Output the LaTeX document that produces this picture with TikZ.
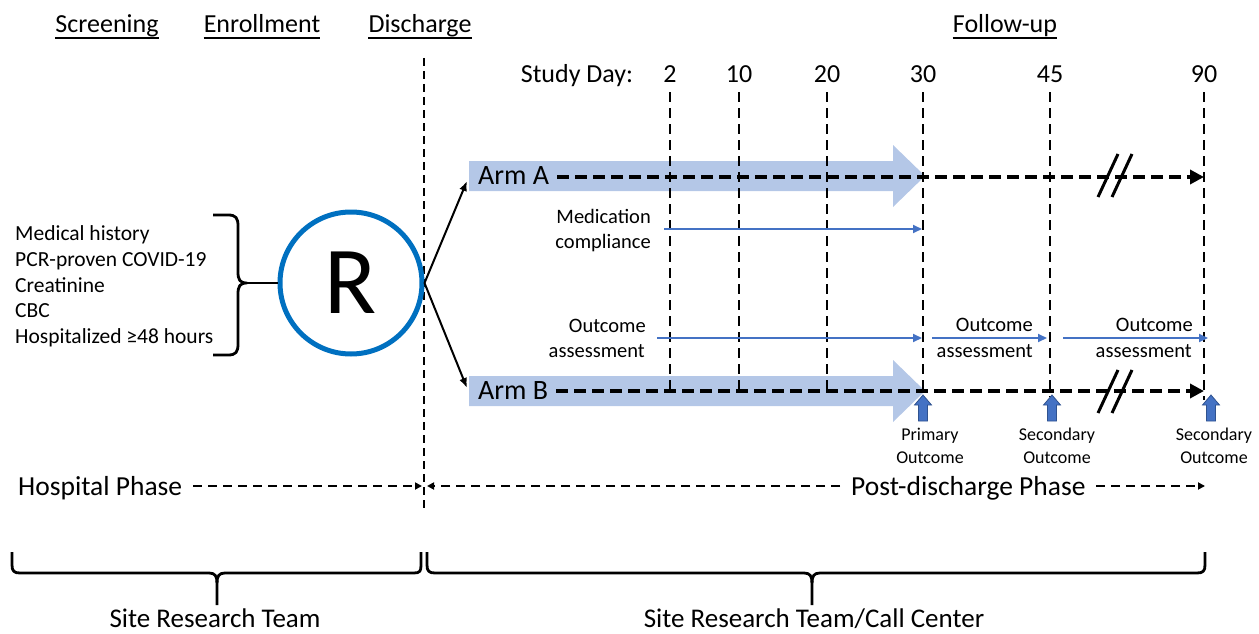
\documentclass[tikz,border=0pt]{standalone}
\usepackage{fontspec}
\setmainfont{Carlito}
\usetikzlibrary{arrows.meta,calc}
\definecolor{ringblue}{HTML}{0070C0}
\definecolor{armfill}{HTML}{B4C7E7}
\definecolor{lineblue}{HTML}{4472C4}
\definecolor{upedge}{HTML}{2F528F}
\tikzset{
  hdr/.style={font=\fontsize{26pt}{31pt}\selectfont, inner sep=0pt, anchor=base},
  armtxt/.style={font=\fontsize{28pt}{33pt}\selectfont, inner sep=0pt, anchor=base west},
  listtxt/.style={font=\fontsize{21.5pt}{25pt}\selectfont, inner sep=0pt, anchor=base west},
  midtxt/.style={font=\fontsize{20.5pt}{25pt}\selectfont, inner sep=0pt, anchor=base east},
  smalltxt/.style={font=\fontsize{18pt}{22pt}\selectfont, inner sep=0pt, anchor=base},
  dline/.style={line width=1.8pt, dash pattern=on 8pt off 5pt},
  vdash/.style={line width=2.8pt, dash pattern=on 10pt off 6pt},
  thickdash/.style={line width=3.8pt, dash pattern=on 12pt off 6pt},
  phasedash/.style={line width=2pt, dash pattern=on 9pt off 6pt},
  blk/.style={line width=2pt, -{Latex[length=10pt,width=8pt]}},
  bluearrow/.style={line width=2pt, draw=lineblue, -{Triangle[length=9pt,width=8pt]}},
  bracepath/.style={line width=2.8pt, line join=round},
}
\begin{document}
\begin{tikzpicture}[x=1pt,y=-1pt]
\useasboundingbox (0,0) rectangle (1259,634);

% headers
\node[hdr] (scr) at (107,33) {Screening};
\node[hdr] (enr) at (262,33) {Enrollment};
\node[hdr] (dis) at (420,33) {Discharge};
\node[hdr] (fol) at (1005,33) {Follow-up};
\foreach \n in {scr,enr,dis,fol}
  \draw[line width=1.3pt] ([yshift=-5pt]\n.base west) -- ([yshift=-5pt]\n.base east);

% study day row
\node[hdr] (sd) at (577,82) {Study Day:};
\node[hdr] (d2) at (670,82) {2};
\node[hdr] (d10) at (739,82) {10};
\node[hdr] (d20) at (827,82) {20};
\node[hdr] (d30) at (923,82) {30};
\node[hdr] (d45) at (1050,82) {45};
\node[hdr] (d90) at (1204,82) {90};

% discharge line
\coordinate (dtop) at (424,58);
\coordinate (dbot) at (424,508);
\draw[dline] (dtop) -- (dbot);

% big arm arrows
\fill[armfill] (469,161) -- (893,161) -- (893,145) -- (925,176) -- (893,207) -- (893,191) -- (469,191) -- cycle;
\fill[armfill] (469,376) -- (893,376) -- (893,360) -- (925,391) -- (893,422) -- (893,406) -- (469,406) -- cycle;

% vertical day lines
\draw[vdash] ([yshift=-10pt]d2.south) -- (d2.south |- 0,391);
\draw[vdash] ([yshift=-10pt]d10.south) -- (d10.south |- 0,391);
\draw[vdash] ([yshift=-10pt]d20.south) -- (d20.south |- 0,391);
\draw[vdash] ([yshift=-10pt]d30.south) -- (d30.south |- 0,397);
\draw[vdash] ([yshift=-10pt]d45.south) -- (d45.south |- 0,397);
\draw[vdash] ([yshift=-10pt]d90.south) -- (d90.south |- 0,400);

% left list
\node[listtxt] (l1) at (15,240) {Medical history};
\node[listtxt] (l2) at (15,266) {PCR-proven COVID-19};
\node[listtxt] (l3) at (15,292) {Creatinine};
\node[listtxt] (l4) at (15,317) {CBC};
\node[listtxt] (l5) at (15,343) {Hospitalized ≥48 hours};

% randomisation circle
\node[draw=ringblue, line width=5pt, circle, minimum size=142pt, inner sep=0pt,
      font=\fontsize{96pt}{110pt}\selectfont] (R) at (351,283) {R};

% brace to circle
\coordinate (btip) at (247,283);
\draw[bracepath] (213,215) -- (228,215) .. controls (236,215) and (238,218) .. (238,226)
  -- (238,272) .. controls (238,280) and (240,283) .. (btip)
  .. controls (240,283) and (238,286) .. (238,294) -- (238,344)
  .. controls (238,352) and (236,355) .. (228,355) -- (213,355);
\draw[line width=2pt] (btip) -- (R.west);

% arm labels
\node[armtxt] (armA) at (478,184) {Arm A};
\node[armtxt] (armB) at (478,399) {Arm B};
\coordinate (armAin) at (467,181);
\coordinate (armBin) at (467,388);
\draw[blk] (R.east) -- (armAin);
\draw[blk] (R.east) -- (armBin);

% dashed arm timelines
\coordinate (aEnd) at (1204,177);
\coordinate (bEnd) at (1204,391);
\draw[thickdash, -{Triangle[length=14pt,width=14pt]}] ([xshift=8pt]armA.east |- 0,177) -- (aEnd);
\draw[thickdash, -{Triangle[length=14pt,width=14pt]}] ([xshift=8pt]armB.east |- 0,391) -- (bEnd);

% break marks
\draw[line width=3pt] (1098,197) -- (1118,154);
\draw[line width=3pt] (1112,197) -- (1132,154);
\draw[line width=3pt] (1098,413) -- (1118,370);
\draw[line width=3pt] (1112,413) -- (1132,370);

% medication compliance
\node[midtxt] (mc1) at (651,223) {Medication};
\node[midtxt] (mc2) at (651,248) {compliance};
\coordinate (mcS) at (664,229);
\coordinate (mcE) at (922,229);
\draw[bluearrow] (mcS) -- (mcE);

% outcome assessments
\node[midtxt] (oa1) at (646,332) {Outcome};
\node[midtxt] (oa1b) at (645,357) {assessment};
\node[midtxt] (oa2) at (1033,331) {Outcome};
\node[midtxt] (oa2b) at (1033,357) {assessment};
\node[midtxt] (oa3) at (1193,331) {Outcome};
\node[midtxt] (oa3b) at (1192,357) {assessment};
\coordinate (o1S) at (657,338);
\coordinate (o1E) at (922,338);
\coordinate (o2S) at (932,338);
\coordinate (o2E) at (1047,338);
\coordinate (o3S) at (1063,338);
\coordinate (o3E) at (1208,338);
\draw[bluearrow] (o1S) -- (o1E);
\draw[bluearrow] (o2S) -- (o2E);
\draw[bluearrow] (o3S) -- (o3E);

% outcome up arrows
\foreach \c in {923,1052,1211}
  \filldraw[fill=lineblue, draw=upedge, line width=0.8pt]
    (\c,395) -- (\c+8.5,405) -- (\c+4.5,405) -- (\c+4.5,421) -- (\c-4.5,421)
    -- (\c-4.5,405) -- (\c-8.5,405) -- cycle;
\node[smalltxt] (po1) at (930,440) {Primary};
\node[smalltxt] (po2) at (930,463) {Outcome};
\node[smalltxt] (so1) at (1057,440) {Secondary};
\node[smalltxt] (so2) at (1057,463) {Outcome};
\node[smalltxt] (to1) at (1214,440) {Secondary};
\node[smalltxt] (to2) at (1214,463) {Outcome};

% phases
\node[hdr, anchor=base west, font=\fontsize{27.5pt}{32pt}\selectfont] (hp) at (18,495) {Hospital Phase};
\node[hdr, anchor=base west, font=\fontsize{27.5pt}{32pt}\selectfont] (pd) at (851,495) {Post-discharge Phase};
\coordinate (hpE) at (422,486);
\coordinate (pdW) at (427,486);
\coordinate (pdE) at (1205,486);
\draw[phasedash, -{Triangle[length=7pt,width=7pt]}] (193,486) -- (hpE);
\draw[phasedash, -{Triangle[length=7pt,width=7pt]}] (840,486) -- (pdW);
\draw[phasedash, -{Triangle[length=7pt,width=7pt]}] (1096,486) -- (pdE);

% bottom braces
\draw[bracepath] (12,552) -- (12,565) .. controls (12,571) and (14,573) .. (20,573) -- (209,573)
  .. controls (215,573) and (217,576) .. (217,583) -- (217,605);
\draw[bracepath] (217,583) .. controls (217,576) and (219,573) .. (225,573) -- (414,573)
  .. controls (420,573) and (421,571) .. (421,565) -- (421,552);
\draw[bracepath] (427,552) -- (427,565) .. controls (427,571) and (429,573) .. (435,573) -- (804,573)
  .. controls (810,573) and (812,576) .. (812,583) -- (812,605);
\draw[bracepath] (812,583) .. controls (812,576) and (814,573) .. (820,573) -- (1197,573)
  .. controls (1203,573) and (1205,571) .. (1205,565) -- (1205,552);
\node[hdr, font=\fontsize{27pt}{32pt}\selectfont] (srt) at (215,627) {Site Research Team};
\node[hdr, font=\fontsize{27pt}{32pt}\selectfont] (srtc) at (814,627) {Site Research Team/Call Center};
\end{tikzpicture}
\end{document}
